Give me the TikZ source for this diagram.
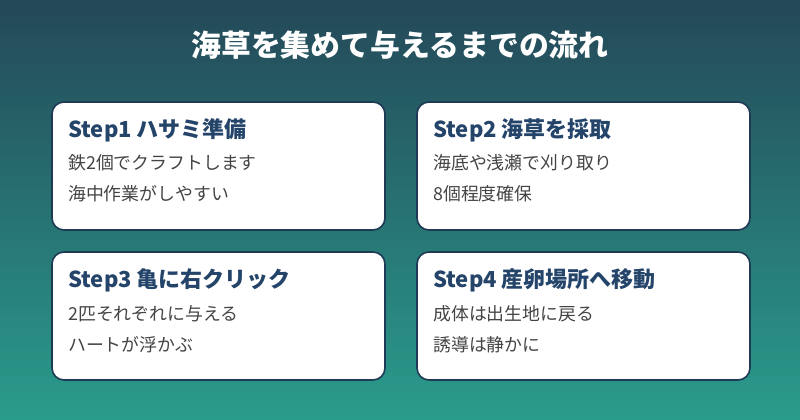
\documentclass[tikz,border=0pt]{standalone}
\usepackage{fontspec}
\setmainfont{Noto Sans CJK JP}
\usetikzlibrary{positioning}
\definecolor{bgtop}{HTML}{244858}
\definecolor{bgbot}{HTML}{2A9C8C}
\definecolor{cardedge}{HTML}{1E3A55}
\definecolor{headblue}{HTML}{24446A}
\definecolor{bodygray}{HTML}{444444}
\tikzset{
  card/.style={draw=cardedge, line width=1.2pt, fill=white, rounded corners=9pt},
  head/.style={anchor=west, inner sep=0pt, text=headblue, font=\fontsize{16.5}{18}\selectfont\bfseries},
  body/.style={anchor=west, inner sep=0pt, text=bodygray, font=\fontsize{13.4}{15}\selectfont}
}
\begin{document}
\begin{tikzpicture}[x=0.75pt, y=-0.75pt]
            \shade [top color=bgtop, bottom color=bgbot] (0,0) rectangle (800,420);
            \useasboundingbox (0,0) rectangle (800,420);
            \node (title) [inner sep=0pt, text=white, font=\fontsize{22.4}{25}\selectfont\bfseries] at (400,45) {海草を集めて与えるまでの流れ};
            % cards
            \draw [card] (52,102) rectangle (385,230);
            \node (h1) [head] at (68,130) {Step1 ハサミ準備};
            \node (b1a) [body] at (68,163) {鉄2個でクラフトします};
            \node (b1b) [body] at (68,194) {海中作業がしやすい};
            \draw [card] (417,102) rectangle (750,230);
            \node (h2) [head] at (433,130) {Step2 海草を採取};
            \node (b2a) [body] at (433,163) {海底や浅瀬で刈り取り};
            \node (b2b) [body] at (433,194) {8個程度確保};
            \draw [card] (52,252) rectangle (385,380);
            \node (h3) [head] at (68,280) {Step3 亀に右クリック};
            \node (b3a) [body] at (68,314) {2匹それぞれに与える};
            \node (b3b) [body] at (68,345) {ハートが浮かぶ};
            \draw [card] (417,252) rectangle (750,380);
            \node (h4) [head] at (433,280) {Step4 産卵場所へ移動};
            \node (b4a) [body] at (433,314) {成体は出生地に戻る};
            \node (b4b) [body] at (433,345) {誘導は静かに};
\end{tikzpicture}
\end{document}
